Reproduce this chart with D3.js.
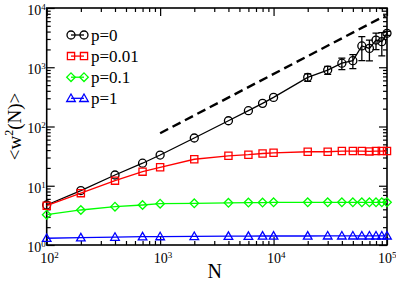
<!DOCTYPE html>
<html>
<head>
<meta charset="utf-8">
<script src="https://cdn.jsdelivr.net/npm/d3@7"></script>
<style>
  body { margin: 0; background: #fff; }
</style>
</head>
<body>
<div id="chart"></div>
<script>
// values
var nValues = [100, 200, 400, 700, 1000, 2000, 4000, 6000, 8000, 10000, 20000, 30000, 40000, 50000, 60000, 70000, 80000, 90000, 100000];
var seriesNames = ['p=0', 'p=0.01', 'p=0.1', 'p=1'];
var widthP0 = [4.73, 8.3, 15.2, 24, 33, 64, 125, 185, 246, 310, 676, 897, 1170, 1290, 2290, 2080, 2880, 2700, 3740];
var errorP0 = [0, 0, 0, 0, 0, 0, 0, 0, 0, 0, 100, 140, 260, 340, 1000, 800, 900, 1150, 300];
var widthP001 = [4.6, 7.5, 12.2, 17.3, 20.5, 28, 32, 33.4, 35, 36, 37.5, 37.5, 38.5, 38.5, 38.5, 38, 38.5, 38.5, 38.5];
var widthP01 = [3.25, 3.9, 4.43, 4.73, 4.98, 5.05, 5.15, 5.2, 5.2, 5.25, 5.25, 5.25, 5.25, 5.25, 5.25, 5.25, 5.25, 5.25, 5.25];
var widthP1 = [1.30, 1.33, 1.36, 1.38, 1.39, 1.40, 1.41, 1.41, 1.42, 1.42, 1.42, 1.43, 1.43, 1.43, 1.43, 1.43, 1.43, 1.43, 1.43];
var guideN = [1000, 97000];
var guideW = [77, 7470];
var xTickExponents = [2, 3, 4, 5];
var yTickExponents = [0, 1, 2, 3, 4];

function renderChart(params) {

  // Exposed variables
  var attrs = {
    svgWidth: 396,
    svgHeight: 281,
    marginTop: 8,
    marginBottom: 36,
    marginRight: 9,
    marginLeft: 46.7,
    container: 'body',
    fontFamily: '"Liberation Serif", "Times New Roman", serif',
    majorTick: 8,
    minorTick: 4,
    colors: ['#000000', '#ff0000', '#00ff00', '#0000ff'],
    shapes: ['circle', 'square', 'diamond', 'triangle'],
    data: null
  };

  //Main chart object
  var main = function (selection) {
    selection.each(function scope() {

      //Calculated properties
      var calc = {};
      calc.chartWidth = attrs.svgWidth - attrs.marginRight - attrs.marginLeft;
      calc.chartHeight = attrs.svgHeight - attrs.marginBottom - attrs.marginTop;

      //Scales
      var scales = {};
      scales.x = d3.scaleLog().domain([100, 1e5]).range([0, calc.chartWidth]);
      scales.y = d3.scaleLog().domain([1, 1e4]).range([calc.chartHeight, 0]);

      //Tick values
      var ticks = {};
      ticks.xMajor = xTickExponents.map(function (e) { return Math.pow(10, e); });
      ticks.yMajor = yTickExponents.map(function (e) { return Math.pow(10, e); });
      ticks.xMinor = minorsOf(ticks.xMajor);
      ticks.yMinor = minorsOf(ticks.yMajor);

      //Drawing containers
      var container = d3.select(this);

      var svg = container.patternify({ tag: 'svg', selector: 'svg-chart-container' })
        .attr('width', attrs.svgWidth)
        .attr('height', attrs.svgHeight)
        .style('font-family', attrs.fontFamily);

      var chart = svg.patternify({ tag: 'g', selector: 'chart' })
        .attr('transform', 'translate(' + attrs.marginLeft + ',' + attrs.marginTop + ')');

      //Axes, ticks pointing inward on all four sides
      drawAxis('x-major', d3.axisBottom(scales.x), ticks.xMajor, attrs.majorTick, 'translate(0,' + calc.chartHeight + ')', 8);
      drawAxis('x-minor', d3.axisBottom(scales.x), ticks.xMinor, attrs.minorTick, 'translate(0,' + calc.chartHeight + ')');
      drawAxis('x-top-major', d3.axisTop(scales.x), ticks.xMajor, attrs.majorTick, 'translate(0,0)');
      drawAxis('x-top-minor', d3.axisTop(scales.x), ticks.xMinor, attrs.minorTick, 'translate(0,0)');
      drawAxis('y-major', d3.axisLeft(scales.y), ticks.yMajor, attrs.majorTick, 'translate(0,0)', 1);
      drawAxis('y-minor', d3.axisLeft(scales.y), ticks.yMinor, attrs.minorTick, 'translate(0,0)');
      drawAxis('y-right-major', d3.axisRight(scales.y), ticks.yMajor, attrs.majorTick, 'translate(' + calc.chartWidth + ',0)');
      drawAxis('y-right-minor', d3.axisRight(scales.y), ticks.yMinor, attrs.minorTick, 'translate(' + calc.chartWidth + ',0)');

      //power of ten labels (last one nudged so it stays inside the picture)
      chart.select('.x-major').selectAll('.tick text').call(powerLabel, 'start', function (d, i, n) {
        return i === n.length - 1 ? -9.5 : -7;
      });
      chart.select('.y-major').selectAll('.tick text').attr('y', 2).call(powerLabel, 'end', null);

      //frame
      chart.patternify({ tag: 'rect', selector: 'frame' })
        .attr('width', calc.chartWidth)
        .attr('height', calc.chartHeight)
        .attr('fill', 'none')
        .attr('stroke', '#000')
        .attr('stroke-width', 1.6);

      //dashed guide line
      var guideData = guideN.map(function (n, i) { return { n: n, w: guideW[i] }; });
      chart.patternify({ tag: 'path', selector: 'guide' })
        .attr('d', d3.line().x(function (d) { return scales.x(d.n); }).y(function (d) { return scales.y(d.w); })(guideData))
        .attr('fill', 'none')
        .attr('stroke', '#000')
        .attr('stroke-width', 2.4)
        .attr('stroke-dasharray', '9,5');

      var line = d3.line()
        .x(function (d) { return scales.x(d.n); })
        .y(function (d) { return scales.y(d.w); });

      //series groups
      var seriesGroups = chart.patternify({ tag: 'g', selector: 'series', data: attrs.data })
        .attr('fill', 'none')
        .attr('stroke', function (d, i) { return attrs.colors[i]; });

      seriesGroups.patternify({ tag: 'path', selector: 'series-line', data: function (d) { return [d]; } })
        .attr('d', function (d) { return line(d.points); })
        .attr('stroke-width', 1.3);

      //error bars
      var errGroups = seriesGroups.patternify({
        tag: 'g', selector: 'err',
        data: function (d) { return d.points.filter(function (p) { return p.e > 0; }); }
      }).attr('stroke-width', 1.3);

      errGroups.patternify({ tag: 'path', selector: 'err-path', data: function (d) { return [d]; } })
        .attr('d', function (d) {
          var cx = scales.x(d.n), y0 = scales.y(d.w - d.e), y1 = scales.y(d.w + d.e);
          return 'M' + cx + ',' + y0 + 'V' + y1 +
            'M' + (cx - 3.5) + ',' + y0 + 'H' + (cx + 3.5) +
            'M' + (cx - 3.5) + ',' + y1 + 'H' + (cx + 3.5);
        });

      //markers
      seriesGroups.each(function (s, i) {
        d3.select(this).patternify({ tag: 'path', selector: 'marker', data: s.points })
          .attr('d', markerPath(attrs.shapes[i]))
          .attr('stroke-width', 1.3)
          .attr('transform', function (d) { return 'translate(' + scales.x(d.n) + ',' + scales.y(d.w) + ')'; });
      });

      //legend
      var legend = chart.patternify({ tag: 'g', selector: 'legend' })
        .attr('transform', 'translate(24.3,27)');

      var legendRows = legend.patternify({ tag: 'g', selector: 'legend-row', data: attrs.data })
        .attr('transform', function (d, i) { return 'translate(0,' + (i * 21.1) + ')'; });

      legendRows.patternify({ tag: 'line', selector: 'legend-line', data: function (d, i) { return [i]; } })
        .attr('x1', 0).attr('x2', 13)
        .attr('stroke', function (i) { return attrs.colors[i]; })
        .attr('stroke-width', 1.3);

      legendRows.patternify({ tag: 'path', selector: 'legend-marker', data: function (d, i) { return [{ i: i, x: 0 }, { i: i, x: 13 }]; } })
        .attr('d', function (d) { return markerPath(attrs.shapes[d.i]); })
        .attr('transform', function (d) { return 'translate(' + d.x + ',0)'; })
        .attr('fill', 'none')
        .attr('stroke', function (d) { return attrs.colors[d.i]; })
        .attr('stroke-width', 1.3);

      legendRows.patternify({ tag: 'text', selector: 'legend-text', data: function (d) { return [d]; } })
        .attr('x', 20)
        .attr('y', 6)
        .attr('font-size', 17)
        .attr('fill', '#000')
        .text(function (d) { return d.name; });

      //axis titles
      chart.patternify({ tag: 'text', selector: 'x-title' })
        .attr('x', calc.chartWidth / 2 - 2)
        .attr('y', calc.chartHeight + 33)
        .attr('text-anchor', 'middle')
        .attr('font-size', 20)
        .text('N');

      var yTitle = chart.patternify({ tag: 'text', selector: 'y-title' })
        .attr('transform', 'translate(' + (21 - attrs.marginLeft) + ',' + (calc.chartHeight / 2) + ') rotate(-90)')
        .attr('text-anchor', 'middle')
        .attr('font-size', 19)
        .text(null);
      yTitle.append('tspan').text('<w');
      yTitle.append('tspan').attr('dy', -8).attr('font-size', 12).text('2');
      yTitle.append('tspan').attr('dy', 8).text('(N)>');

      //#########################################  UTIL FUNCS ##################################

      function drawAxis(selector, axis, values, size, transform, padding) {
        var labelled = padding != null;
        var g = chart.patternify({ tag: 'g', selector: selector })
          .attr('transform', transform);
        g.call(axis.tickValues(values)
          .tickSizeInner(-size)
          .tickSizeOuter(0)
          .tickPadding(labelled ? padding : 0)
          .tickFormat(labelled ? function (d) { return d; } : ''));
        g.select('.domain').remove();
        g.attr('font-family', null).attr('font-size', null);
        g.selectAll('.tick line').attr('stroke-width', 1.2);
        return g;
      }

      function powerLabel(text, anchor, shiftX) {
        text.each(function (d, i, nodes) {
          var t = d3.select(this).text(null)
            .attr('text-anchor', anchor)
            .attr('font-size', 14)
            .attr('fill', '#000');
          if (shiftX != null) t.attr('x', shiftX(d, i, nodes));
          t.append('tspan').text('10');
          t.append('tspan').attr('dy', -5).attr('font-size', 9).text(Math.round(Math.log10(d)));
        });
      }

      function minorsOf(majors) {
        var out = [];
        majors.slice(0, -1).forEach(function (d) {
          for (var k = 2; k < 10; k++) out.push(d * k);
        });
        return out;
      }

      function markerPath(shape) {
        if (shape === 'circle') return 'M4,0A4,4 0 1,1 -4,0A4,4 0 1,1 4,0Z';
        if (shape === 'square') return 'M-3.6,-3.6H3.6V3.6H-3.6Z';
        if (shape === 'diamond') return 'M0,-4.3L4.3,0L0,4.3L-4.3,0Z';
        return 'M0,-4.3L4.3,3.2L-4.3,3.2Z';
      }
    });
  };

  //----------- PROTOTYEPE FUNCTIONS  ----------------------
  d3.selection.prototype.patternify = function (params) {
    var container = this;
    var selector = params.selector;
    var elementTag = params.tag;
    var data = params.data || [selector];

    var selection = container.selectAll('.' + selector).data(data, function (d, i) {
      if (typeof d === 'object' && d && d.id) return d.id;
      return i;
    });
    selection.exit().remove();
    selection = selection.enter().append(elementTag).merge(selection);
    selection.attr('class', selector);
    return selection;
  };

  //Dynamic keys functions
  Object.keys(attrs).forEach(function (key) {
    main[key] = function (_) {
      if (!arguments.length) return attrs[key];
      attrs[key] = _;
      return main;
    };
  });

  main.run = function () {
    d3.selectAll(attrs.container).call(main);
    return main;
  };

  return main;
}

// build series table from the arrays above
var seriesValues = [widthP0, widthP001, widthP01, widthP1];
var seriesData = seriesNames.map(function (name, i) {
  return {
    name: name,
    points: nValues.map(function (n, j) {
      return { n: n, w: seriesValues[i][j], e: i === 0 ? errorP0[j] : 0 };
    })
  };
});

renderChart()
  .container('#chart')
  .data(seriesData)
  .run();
</script>
</body>
</html>
